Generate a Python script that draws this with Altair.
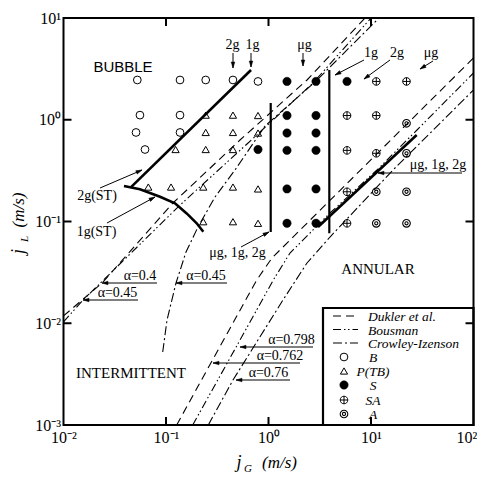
import math
import altair as alt
import pandas as pd

# ------------------------------------------------------------------ data
X_TICKS = [0.01, 0.1, 1, 10, 100]
X_TICK_LABELS = ["10⁻²", "10⁻¹", "10⁰", "10¹", "10²"]
Y_TICKS = [0.001, 0.01, 0.1, 1, 10]
Y_TICK_LABELS = ["10⁻³", "10⁻²", "10⁻¹", "10⁰", "10¹"]

# flow-regime observations (jG, jL in m/s)
B_jg = [0.0525, 0.137, 0.244, 0.45, 0.79, 0.0557, 0.137, 0.051, 0.137, 0.0624]
B_jl = [2.46, 2.46, 2.46, 2.46, 2.38, 1.11, 1.11, 0.75, 0.75, 0.51]
PTB_jg = [0.244, 0.45, 0.79, 0.244, 0.45, 0.79, 0.124, 0.244, 0.45,
          0.0672, 0.112, 0.231, 0.45, 0.79, 0.231, 0.45, 0.79]
PTB_jl = [1.11, 1.11, 1.10, 0.75, 0.75, 0.74, 0.51, 0.51, 0.51,
          0.218, 0.218, 0.218, 0.218, 0.209, 0.0995, 0.0995, 0.096]
S_jg = [0.79, 1.515, 1.515, 1.515, 1.515, 1.515, 1.515,
        2.907, 2.907, 2.907, 2.907, 2.907, 2.907, 5.834]
S_jl = [0.51, 2.38, 1.10, 0.74, 0.50, 0.209, 0.096,
        2.38, 1.10, 0.74, 0.50, 0.209, 0.096, 2.38]
SA_jg = [5.834, 5.834, 5.834, 5.834, 11.26, 11.26, 11.26, 22.2]
SA_jl = [1.10, 0.50, 0.196, 0.096, 2.38, 1.10, 0.468, 2.38]
A_jg = [11.26, 11.26, 22.2, 22.2, 22.2, 22.2]
A_jl = [0.196, 0.096, 0.923, 0.468, 0.196, 0.096]

# transition models
dukler_040_jg = [0.01, 0.0238, 0.117, 0.527, 2.375, 8.74]
dukler_040_jl = [0.0118, 0.0249, 0.152, 0.632, 2.459, 10.0]
dukler_0762_jg = [0.1272, 0.2748, 0.767, 1.081, 100.0]
dukler_0762_jl = [0.001, 0.00409, 0.0266, 0.0438, 4.05]
bousman_045_jg = [0.01, 0.0155, 0.137, 0.617, 2.717, 10.0]
bousman_045_jl = [0.0103, 0.0169, 0.145, 0.578, 2.297, 10.0]
bousman_0798_jg = [0.1822, 0.4896, 1.114, 1.621, 3.98, 11.44, 28.1, 100.0]
bousman_0798_jl = [0.001, 0.00598, 0.0266, 0.049, 0.1212, 0.3207, 0.793, 2.88]
crowley_045_jg = [0.0929, 0.1023, 0.1252, 0.1567, 0.2052, 0.3006, 0.4711, 0.9244, 2.907, 11.97]
crowley_045_jl = [0.00522, 0.01076, 0.02488, 0.0501, 0.0883, 0.1741, 0.3207, 0.8682, 2.403, 10.0]
crowley_076_jg = [0.2587, 0.4505, 1.385, 2.375, 3.98, 16.39, 100.0]
crowley_076_jl = [0.001, 0.00277, 0.01693, 0.0391, 0.0704, 0.3207, 1.961]

# experimental transition boundaries (thick lines)
st2g_jg = [0.0456, 0.675]
st2g_jl = [0.218, 3.08]
st1g_jg = [0.0389, 0.0557, 0.0874, 0.1224, 0.1592, 0.1993, 0.2312]
st1g_jl = [0.223, 0.207, 0.175, 0.151, 0.120, 0.096, 0.0794]
bs_jg = [1.051, 1.051]
bs_jl = [0.0789, 1.461]
sa_jg = [3.92, 3.92]
sa_jl = [0.0766, 3.083]
ann_jg = [3.04, 27.9]
ann_jl = [0.0883, 0.708]

LEGEND_LINES = ["Dukler et al.", "Bousman", "Crowley-Izenson"]
LEGEND_POINTS = ["B", "P(TB)", "S", "SA", "A"]

# ------------------------------------------------------------------ layout
OX, OY = 63.5, 18.0          # page position of plot origin
W, H = 410, 407
SERIF = "Liberation Serif"
SANS = "Liberation Sans"

DASH_DUKLER = [8, 5]
DASH_BOUSMAN = [8, 3, 1.5, 2.5, 1.5, 3]
DASH_CROWLEY = [9, 3, 2, 3]

PATH_SA = "M-1,0A1,1 0 1,1 1,0A1,1 0 1,1 -1,0Z M-1,0L1,0 M0,-1L0,1"
PATH_A = "M-1,0A1,1 0 1,1 1,0A1,1 0 1,1 -1,0Z M-0.42,0A0.42,0.42 0 1,1 0.42,0A0.42,0.42 0 1,1 -0.42,0Z"
PATH_HEAD = "M1,0L-1,-0.6L-1,0.6Z"


def label_expr(vals, labs):
    expr = "''"
    for v, l in reversed(list(zip(vals, labs))):
        expr = f"abs(log(datum.value)/LN10 - ({math.log10(v)})) < 0.01 ? '{l}' : ({expr})"
    return expr


xs = alt.Scale(type="log", domain=[0.01, 100], nice=False)
ys = alt.Scale(type="log", domain=[0.001, 10], nice=False)
x_axis = alt.Axis(values=X_TICKS, labelExpr=label_expr(X_TICKS, X_TICK_LABELS), title=None,
                  ticks=False, domain=False, grid=False, labelFont=SERIF, labelFontSize=16,
                  labelColor="black", labelPadding=4, labelOverlap=False, labelFlush=False,
                  labelOffset={"condition": {"test": "datum.value > 50", "value": -7}, "value": 0})
y_axis = alt.Axis(values=Y_TICKS, labelExpr=label_expr(Y_TICKS, Y_TICK_LABELS), title=None,
                  ticks=False, domain=False, grid=False, labelFont=SERIF, labelFontSize=16,
                  labelColor="black", labelPadding=3, labelOverlap=False, labelFlush=False)


def XD(f):
    return alt.X(f"{f}:Q", scale=xs, axis=x_axis)


def YD(f):
    return alt.Y(f"{f}:Q", scale=ys, axis=y_axis)


def XP(f):
    return alt.X(f"{f}:Q", scale=None, axis=None)


def YP(f):
    return alt.Y(f"{f}:Q", scale=None, axis=None)


def curves(named):
    frames = []
    for name, jg, jl in named:
        frames.append(pd.DataFrame({"jG": jg, "jL": jl, "curve": name, "i": range(len(jg))}))
    return pd.concat(frames, ignore_index=True)


def line_layer(named, width, dash=None):
    kw = dict(stroke="black", strokeWidth=width, clip=True)
    if dash:
        kw["strokeDash"] = dash
    return alt.Chart(curves(named)).mark_line(**kw).encode(
        x=XD("jG"), y=YD("jL"), detail="curve:N", order="i:Q")


POINT_STYLE = {
    "B": dict(shape="circle", size=60, filled=False, strokeWidth=1.0),
    "P(TB)": dict(shape="triangle-up", size=52, filled=False, strokeWidth=1.0),
    "S": dict(shape="circle", size=70, filled=True, fill="black", strokeWidth=0.5),
    "SA": dict(shape=PATH_SA, size=58, filled=False, strokeWidth=1.0),
    "A": dict(shape=PATH_A, size=58, filled=False, strokeWidth=1.1),
}


def point_layer(kind, df, xenc, yenc):
    st = dict(POINT_STYLE[kind])
    return alt.Chart(df).mark_point(stroke="black", opacity=1, **st).encode(x=xenc, y=yenc)


layers = []

# model lines
layers.append(line_layer([("d040", dukler_040_jg, dukler_040_jl),
                          ("d0762", dukler_0762_jg, dukler_0762_jl)], 1.1, DASH_DUKLER))
layers.append(line_layer([("b045", bousman_045_jg, bousman_045_jl),
                          ("b0798", bousman_0798_jg, bousman_0798_jl)], 1.1, DASH_BOUSMAN))
layers.append(line_layer([("c045", crowley_045_jg, crowley_045_jl),
                          ("c076", crowley_076_jg, crowley_076_jl)], 1.1, DASH_CROWLEY))
layers.append(line_layer([("st2g", st2g_jg, st2g_jl), ("st1g", st1g_jg, st1g_jl),
                          ("ann", ann_jg, ann_jl)], 2.6))
layers.append(line_layer([("bs", bs_jg, bs_jl), ("sa", sa_jg, sa_jl)], 2.2))

# observations
for kind, jg, jl in [("B", B_jg, B_jl), ("P(TB)", PTB_jg, PTB_jl), ("S", S_jg, S_jl),
                     ("SA", SA_jg, SA_jl), ("A", A_jg, A_jl)]:
    layers.append(point_layer(kind, pd.DataFrame({"jG": jg, "jL": jl}), XD("jG"), YD("jL")))

# inward decade ticks on all four sides
xt = pd.DataFrame({"jG": X_TICKS[1:-1]})
yt = pd.DataFrame({"jL": Y_TICKS[1:-1]})
tk = dict(stroke="black", strokeWidth=2)
layers.append(alt.Chart(xt).mark_rule(**tk).encode(x=XD("jG"), y=alt.value(H), y2=alt.value(H - 8)))
layers.append(alt.Chart(xt).mark_rule(**tk).encode(x=XD("jG"), y=alt.value(0), y2=alt.value(8)))
layers.append(alt.Chart(yt).mark_rule(**tk).encode(y=YD("jL"), x=alt.value(0), x2=alt.value(8)))
layers.append(alt.Chart(yt).mark_rule(**tk).encode(y=YD("jL"), x=alt.value(W), x2=alt.value(W - 8)))

# ------------------------------------------------------------------ annotations (page px)
def text_layer(rows, font=SERIF, style="normal", align="center", angle=0):
    df = pd.DataFrame(rows, columns=["t", "x", "y", "fs"])
    df["x"] = df["x"] - OX
    df["y"] = df["y"] - OY
    return alt.Chart(df).mark_text(font=font, fontStyle=style, align=align, baseline="alphabetic",
                                   angle=angle, color="black").encode(
        x=XP("x"), y=YP("y"), text="t:N", size=alt.Size("fs:Q", scale=None, legend=None))


layers.append(text_layer([("BUBBLE", 123, 72, 15)], font=SANS))
layers.append(text_layer([
    ("ANNULAR", 378, 274, 15), ("INTERMITTENT", 131, 378, 15),
    ("2g", 232.5, 49, 14), ("1g", 252.5, 49, 14), ("μg", 304.5, 49, 14),
    ("1g", 371, 57, 14), ("2g", 397, 57, 14), ("μg", 431, 57, 14),
    ("μg, 1g, 2g", 438, 169, 14), ("μg, 1g, 2g", 237.5, 257, 14),
    ("2g(ST)", 97, 200, 14), ("1g(ST)", 96.5, 236, 14),
    ("α=0.4", 140, 280, 14), ("α=0.45", 117.5, 297, 14), ("α=0.45", 206, 280, 14),
    ("α=0.798", 291.5, 344, 14), ("α=0.762", 280, 360, 14), ("α=0.76", 268.5, 377, 14),
]))

ARROWS = [
    (233, 53, 233, 68), (251, 53, 251, 67), (303, 53, 303, 66),
    (364, 60, 335, 75), (390, 60, 364, 79), (433, 61, 420, 69),
    (462, 173, 378, 173), (241, 247, 269, 232),
    (100, 188, 142, 170), (107, 223, 155, 197),
    (157, 283, 102, 283), (138, 300, 83, 300), (227, 283, 176, 283),
    (313, 347, 240, 347), (300, 363, 213, 363), (290, 380, 236, 380),
]
arr = pd.DataFrame(ARROWS, columns=["x1", "y1", "x2", "y2"])
for c in ["x1", "x2"]:
    arr[c] = arr[c] - OX
for c in ["y1", "y2"]:
    arr[c] = arr[c] - OY
HEAD_R = 3.0
ang = []
hx = []
hy = []
for _, r in arr.iterrows():
    a = math.atan2(r.y2 - r.y1, r.x2 - r.x1)
    ang.append(math.degrees(a) % 360)
    hx.append(r.x2 - HEAD_R * math.cos(a))
    hy.append(r.y2 - HEAD_R * math.sin(a))
arr["ang"] = ang
arr["hx"] = hx
arr["hy"] = hy
layers.append(alt.Chart(arr).mark_rule(stroke="black", strokeWidth=1).encode(
    x=XP("x1"), y=YP("y1"), x2="x2:Q", y2="y2:Q"))
layers.append(alt.Chart(arr).mark_point(shape=PATH_HEAD, size=(2 * HEAD_R) ** 2, filled=True,
                                        fill="black", stroke="black", strokeWidth=0.5, opacity=1).encode(
    x=XP("hx"), y=YP("hy"), angle=alt.Angle("ang:Q", scale=None)))

# axis titles
layers.append(text_layer([("j", 239, 468, 18)], style="italic"))
layers.append(text_layer([("G", 244, 472, 11), ("(m/s)", 262, 468, 17)], style="italic", align="left"))
layers.append(text_layer([("j", 24, 251.5, 18), ("L", 27.5, 239, 11), ("(m/s)", 24, 210, 17)],
                         style="italic", angle=270))

# legend box
box = pd.DataFrame({"x": [323 - OX], "x2": [473.5 - OX], "y": [308 - OY], "y2": [425 - OY]})
layers.append(alt.Chart(box).mark_rect(filled=False, stroke="black", strokeWidth=2.2).encode(
    x=XP("x"), x2="x2:Q", y=YP("y"), y2="y2:Q"))

LEG_LINE_Y = [316, 329.5, 343]
for name, yy, dash in zip(LEGEND_LINES, LEG_LINE_Y, [DASH_DUKLER, DASH_BOUSMAN, DASH_CROWLEY]):
    d = pd.DataFrame({"x": [333 - OX], "x2": [358 - OX], "y": [yy - OY]})
    layers.append(alt.Chart(d).mark_rule(stroke="black", strokeWidth=1.1, strokeDash=dash).encode(
        x=XP("x"), x2="x2:Q", y=YP("y")))
layers.append(text_layer([(n, 368, yy + 5, 13.5) for n, yy in zip(LEGEND_LINES, LEG_LINE_Y)],
                         style="italic", align="left"))

LEG_PT_Y = [357, 371, 385, 400, 414]
for name, yy in zip(LEGEND_POINTS, LEG_PT_Y):
    d = pd.DataFrame({"x": [344 - OX], "y": [yy - OY]})
    layers.append(point_layer(name, d, XP("x"), YP("y")))
layers.append(text_layer([(n, 373, yy + 5, 13.5) for n, yy in zip(LEGEND_POINTS, LEG_PT_Y)],
                         style="italic"))

PAD_L = OX - 8
PAD_T = OY - 8
PAD_R = 485 - 16 - PAD_L - W
PAD_B = 482 - 8 - PAD_T - H

chart = alt.layer(*layers).properties(
    width=W, height=H,
    autosize=alt.AutoSizeParams(type="none"),
    padding={"left": PAD_L, "top": PAD_T, "right": PAD_R, "bottom": PAD_B},
).configure_view(stroke="black", strokeWidth=2)

chart.save("out.html", embed_options={"renderer": "svg", "actions": False})
